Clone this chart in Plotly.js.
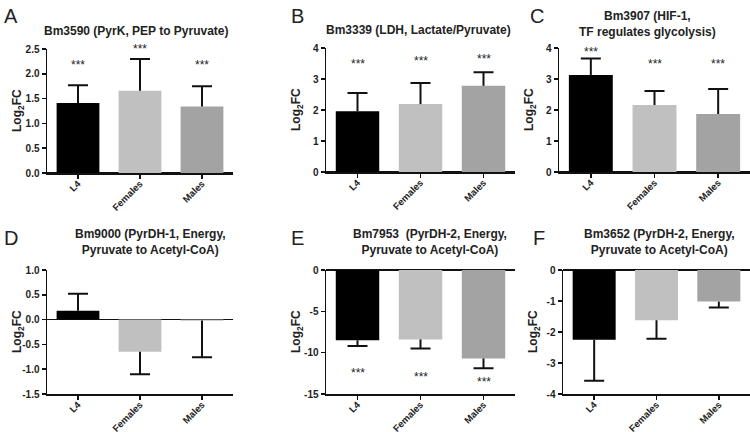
<!DOCTYPE html>
<html>
<head>
<meta charset="utf-8">
<script src="https://cdn.plot.ly/plotly-3.0.1.min.js"></script>
<style>
  html, body { margin: 0; padding: 0; background: #fff; }
  #chart { width: 750px; height: 432px; }
</style>
</head>
<body>
<div id="chart"></div>
<script>
// groups on the x axis
var groups = ['L4', 'Females', 'Males'];
var barColors = ['#000000', '#c0c0c0', '#a3a3a3'];

// mean Log2FC and the end of each error bar, per panel
var valsA = [1.41, 1.66, 1.34];
var errA = [1.77, 2.30, 1.75];
var starA = [2.18, 2.52, 2.18];

var valsB = [1.96, 2.19, 2.78];
var errB = [2.55, 2.87, 3.22];
var starB = [3.47, 3.58, 3.65];

var valsC = [3.13, 2.16, 1.87];
var errC = [3.66, 2.61, 2.68];
var starC = [3.86, 3.48, 3.48];

var valsD = [0.18, -0.65, -0.02];
var errD = [0.52, -1.10, -0.76];

var valsE = [-8.5, -8.4, -10.7];
var errE = [-9.2, -9.5, -11.9];
var starE = [-12.4, -13.0, -13.6];

var valsF = [-2.25, -1.62, -1.02];
var errF = [-3.57, -2.22, -1.21];

// tick labels
var ticksA = [0, 0.5, 1.0, 1.5, 2.0, 2.5];
var tickTextA = ['0.0', '0.5', '1.0', '1.5', '2.0', '2.5'];
var ticksBC = [0, 1, 2, 3, 4];
var tickTextBC = ['0', '1', '2', '3', '4'];
var ticksD = [-1.5, -1.0, -0.5, 0, 0.5, 1.0];
var tickTextD = ['-1.5', '-1.0', '-0.5', '0.0', '0.5', '1.0'];
var ticksE = [-15, -10, -5, 0];
var tickTextE = ['-15', '-10', '-5', '0'];
var ticksF = [-4, -3, -2, -1, 0];
var tickTextF = ['-4', '-3', '-2', '-1', '0'];

var W = 750, H = 432;
var FONT = 'Liberation Sans, Arial, sans-serif';
var INK = '#111';

// pixel boxes of each panel: [left, right, top, bottom]
var panels = [
    {id: '', box: [47, 233, 49, 173], range: [0, 2.5], vals: valsA, err: errA, stars: starA,
     tv: ticksA, tt: tickTextA, letter: 'A', lx: 2, ly: 3,
     title: 'Bm3590 (PyrK, PEP to Pyruvate)', tx: 136, ty: 31},
    {id: '2', box: [326, 515, 48, 172], range: [0, 4], vals: valsB, err: errB, stars: starB,
     tv: ticksBC, tt: tickTextBC, letter: 'B', lx: 289, ly: 3,
     title: 'Bm3339 (LDH, Lactate/Pyruvate)', tx: 418, ty: 30},
    {id: '3', box: [559, 750, 48, 172], range: [0, 4], vals: valsC, err: errC, stars: starC,
     tv: ticksBC, tt: tickTextBC, letter: 'C', lx: 528, ly: 3,
     title: 'Bm3907 (HIF-1,<br>TF regulates glycolysis)', tx: 647, ty: 24},
    {id: '4', box: [47, 233, 270, 394], range: [-1.5, 1], vals: valsD, err: errD, stars: null,
     tv: ticksD, tt: tickTextD, letter: 'D', lx: 2, ly: 225,
     title: 'Bm9000 (PyrDH-1, Energy,<br>Pyruvate to Acetyl-CoA)', tx: 150, ty: 242},
    {id: '5', box: [326, 515, 270, 394], range: [-15, 0], vals: valsE, err: errE, stars: starE,
     tv: ticksE, tt: tickTextE, letter: 'E', lx: 289, ly: 225,
     title: 'Bm7953  (PyrDH-2, Energy,<br>Pyruvate to Acetyl-CoA)', tx: 430, ty: 242},
    {id: '6', box: [563, 750, 270, 394], range: [-4, 0], vals: valsF, err: errF, stars: null,
     tv: ticksF, tt: tickTextF, letter: 'F', lx: 531, ly: 225,
     title: 'Bm3652 (PyrDH-2, Energy,<br>Pyruvate to Acetyl-CoA)', tx: 659, ty: 242}
];

var data = [];
var layout = {
    width: W, height: H,
    margin: {l: 0, r: 0, t: 0, b: 0},
    paper_bgcolor: '#fff', plot_bgcolor: '#fff',
    showlegend: false,
    bargap: 0.31,
    font: {family: FONT, color: '#222'},
    annotations: []
};

panels.forEach(function (p) {
    var xa = 'x' + p.id, ya = 'y' + p.id;
    // error stems go away from zero; caps only at the far end
    var plus = [], minus = [], zeros = [];
    for (var i = 0; i < p.vals.length; i++) {
        var d = p.err[i] - p.vals[i];
        plus.push(d > 0 ? d : 0);
        minus.push(d < 0 ? -d : 0);
        zeros.push(0);
    }
    data.push({
        type: 'bar', x: groups, y: p.vals, xaxis: xa, yaxis: ya,
        marker: {color: barColors, line: {width: 0}},
        error_y: {type: 'data', symmetric: false, array: plus, arrayminus: minus,
                  color: INK, thickness: 2, width: 0},
        hoverinfo: 'skip'
    });
    // caps of the error bars
    data.push({
        type: 'scatter', mode: 'markers', x: groups, y: p.err, xaxis: xa, yaxis: ya,
        marker: {size: 1, color: 'rgba(0,0,0,0)'},
        error_y: {type: 'data', array: zeros, color: INK, thickness: 2, width: 10},
        cliponaxis: false, hoverinfo: 'skip'
    });

    var xkey = 'xaxis' + p.id, ykey = 'yaxis' + p.id;
    layout[xkey] = {
        domain: [p.box[0] / W, p.box[1] / W],
        anchor: ya, type: 'category', range: [-0.5, 2.5],
        showline: true, linecolor: INK, linewidth: 1.5,
        ticks: 'outside', ticklen: 4, tickwidth: 1.5, tickcolor: INK,
        ticklabelstandoff: -4,
        tickangle: -45, tickfont: {family: FONT, size: 9.5, color: '#222', weight: 'bold'},
        showgrid: false, zeroline: false, fixedrange: true
    };
    layout[ykey] = {
        domain: [1 - p.box[3] / H, 1 - p.box[2] / H],
        anchor: xa, range: p.range,
        tickvals: p.tv, ticktext: p.tt,
        showline: true, linecolor: INK, linewidth: 1.5,
        ticks: 'outside', ticklen: 4, tickwidth: 1.5, tickcolor: INK,
        tickfont: {family: FONT, size: 10, color: '#222', weight: 'bold'},
        showgrid: false, zeroline: true, zerolinecolor: INK, zerolinewidth: 1.5,
        fixedrange: true
    };

    // significance stars (kept inside the axis range so they are drawn)
    if (p.stars) {
        p.stars.forEach(function (s, i) {
            layout.annotations.push({
                xref: xa, yref: ya, x: groups[i], y: Math.min(s, p.range[1]),
                xanchor: 'center', yanchor: 'middle', showarrow: false,
                text: '***', font: {family: FONT, size: 12, color: '#222'}
            });
        });
    }
    // panel letter
    layout.annotations.push({
        xref: 'paper', yref: 'paper', x: p.lx / W, y: 1 - p.ly / H,
        xanchor: 'left', yanchor: 'top', showarrow: false,
        text: p.letter, font: {family: FONT, size: 20, color: '#222'}
    });
    // panel title
    layout.annotations.push({
        xref: 'paper', yref: 'paper', x: p.tx / W, y: 1 - p.ty / H,
        xanchor: 'center', yanchor: 'middle', showarrow: false,
        text: p.title, font: {family: FONT, size: 12, color: '#222', weight: 'bold'}
    });
    // y axis title
    layout.annotations.push({
        xref: 'paper', yref: 'paper', x: (p.box[0] - 29) / W, y: 1 - (p.box[2] + p.box[3]) / 2 / H,
        xanchor: 'center', yanchor: 'middle', showarrow: false, textangle: -90,
        text: 'Log<sub>2</sub>FC', font: {family: FONT, size: 12, color: '#222', weight: 'bold'}
    });
});

Plotly.newPlot('chart', data, layout, {displayModeBar: false, staticPlot: true});
</script>
</body>
</html>
